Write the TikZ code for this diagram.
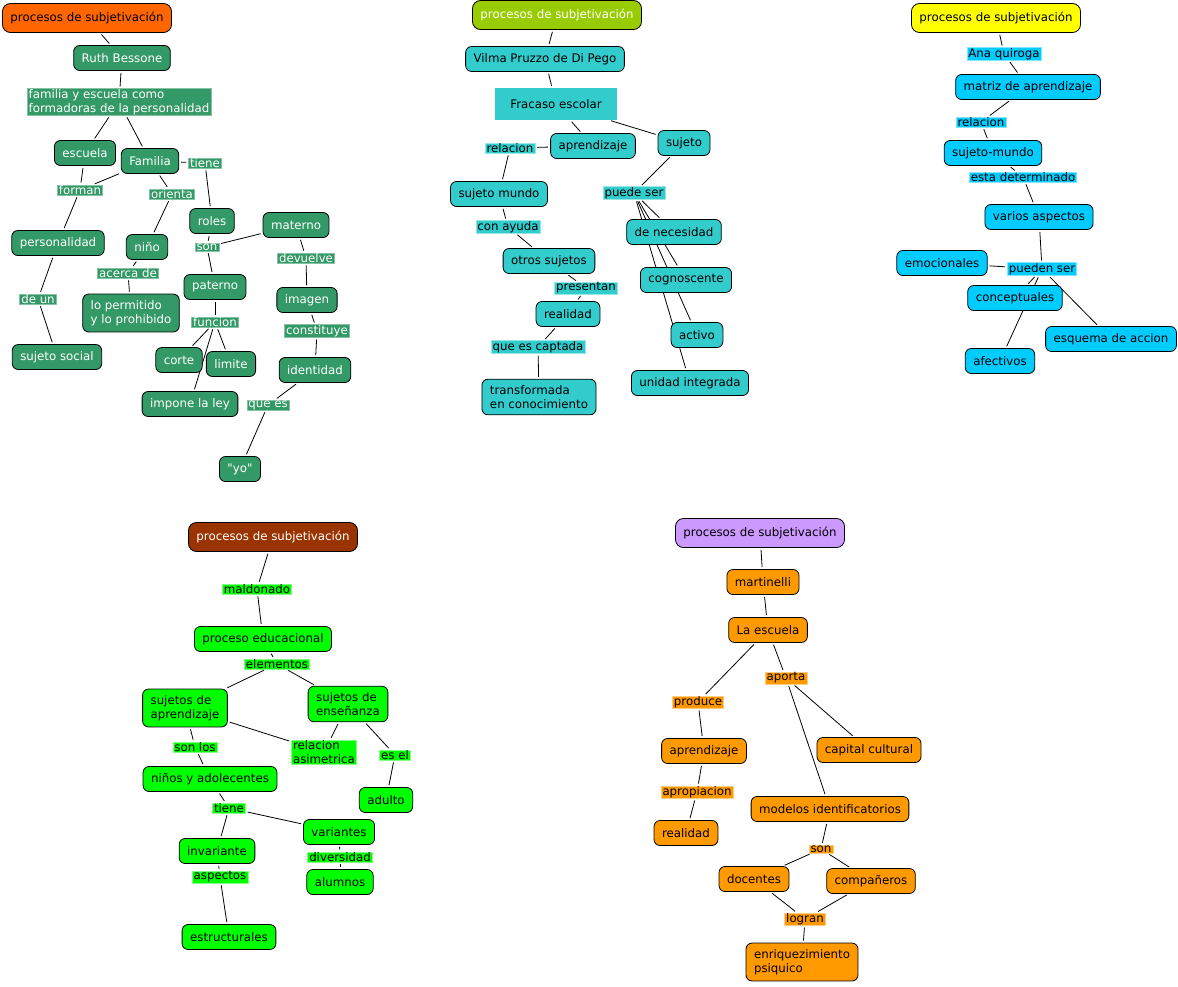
\documentclass[tikz,border=0pt]{standalone}
\usepackage{fontspec}
\setmainfont{DejaVu Sans}[Ligatures=TeXOff]
\usepackage{tikz}
\usetikzlibrary{backgrounds}
\usepackage{xcolor}
\definecolor{naranja}{HTML}{FF6600}
\definecolor{verde}{HTML}{339966}
\definecolor{oliva}{HTML}{99CC00}
\definecolor{turquesa}{HTML}{33CCCC}
\definecolor{amarillo}{HTML}{FFFF00}
\definecolor{celeste}{HTML}{00CCFF}
\definecolor{marron}{HTML}{993300}
\definecolor{lima}{HTML}{00FF00}
\definecolor{lila}{HTML}{CC99FF}
\definecolor{mandarina}{HTML}{FF9900}
\tikzset{
        block/.style = {draw, rounded corners=6pt, line width=0.8pt,
            minimum height=25pt, inner xsep=8pt, inner ysep=6pt,
            align=left, font=\fontsize{11.8}{14.5}\selectfont},
        head/.style = {block, rounded corners=8pt, minimum height=29pt},
        phrase/.style = {inner xsep=1.5pt, inner ysep=0.5pt, align=left,
            line width=0.6pt, font=\fontsize{11.8}{14}\selectfont},
        conn/.style = {draw, line width=0.8pt, shorten >=2pt, shorten <=2pt},
        b1/.style = {block, fill=verde, text=white},
        p1/.style = {phrase, fill=verde, draw=verde!60, text=white},
        b2/.style = {block, fill=turquesa},
        p2/.style = {phrase, fill=turquesa, draw=turquesa!50},
        b3/.style = {block, fill=celeste},
        p3/.style = {phrase, fill=celeste, draw=celeste!50},
        b4/.style = {block, fill=lima},
        p4/.style = {phrase, fill=lima, draw=lima!50},
        b5/.style = {block, fill=mandarina},
        p5/.style = {phrase, fill=mandarina, draw=mandarina!50},
    }

\begin{document}
\begin{tikzpicture}[x=1pt,y=-1pt]
        \useasboundingbox (0,0) rectangle (1178,986);

        % Ruth Bessone
        \node[head, fill=naranja] (t1) at (87,18) {procesos de subjetivación};
        \node[b1] (ruth) at (122,58) {Ruth Bessone};
        \node[p1] (fyes) at (119,102) {familia y escuela como\\formadoras de la personalidad};
        \node[b1] (esc) at (85,153) {escuela};
        \node[b1] (fam) at (150,161) {Familia};
        \node[p1] (tiene1) at (205,163) {tiene};
        \node[p1] (forman) at (80,190) {forman};
        \node[p1] (orienta) at (172,194) {orienta};
        \node[b1] (roles) at (212,221) {roles};
        \node[b1] (mat) at (296,225) {materno};
        \node[b1] (pers) at (58,243) {personalidad};
        \node[b1] (nino) at (147,247) {niño};
        \node[p1] (son1) at (207,247) {son};
        \node[p1] (devu) at (306,258) {devuelve};
        \node[p1] (acerca) at (128,273) {acerca de};
        \node[b1] (pat) at (215,287) {paterno};
        \node[p1] (deun) at (38,299) {de un};
        \node[b1] (permit) at (131,313) {lo permitido\\y lo prohibido};
        \node[b1] (imagen) at (307,300) {imagen};
        \node[p1] (func) at (215,322) {funcion};
        \node[p1] (const) at (317,331) {constituye};
        \node[b1] (social) at (57,357) {sujeto social};
        \node[b1] (corte) at (179,360) {corte};
        \node[b1] (limite) at (231,364) {limite};
        \node[b1] (ident) at (315,370) {identidad};
        \node[b1] (ley) at (190,404) {impone la ley};
        \node[p1] (quees) at (268,405) {que es};
        \node[b1] (yo) at (240,469) {"yo"};

        % Vilma Pruzzo de Di Pego
        \node[head, fill=oliva, text=white] (t2) at (557,15) {procesos de subjetivación};
        \node[b2] (vilma) at (545,59) {Vilma Pruzzo de Di Pego};
        \node[fill=turquesa, minimum width=122pt, minimum height=32pt,
            font=\fontsize{11.8}{14}\selectfont] (fracaso) at (556,104) {Fracaso escolar};
        \node[b2] (apr2) at (593,146) {aprendizaje};
        \node[b2] (suj2) at (684,143) {sujeto};
        \node[p2] (rel2) at (510,148) {relacion};
        \node[b2] (sm2) at (499,194) {sujeto mundo};
        \node[p2] (puede) at (634,193) {puede ser};
        \node[p2] (ayuda) at (508,227) {con ayuda};
        \node[b2] (neces) at (674,232) {de necesidad};
        \node[b2] (otros) at (549,261) {otros sujetos};
        \node[b2] (cogn) at (686,280) {cognoscente};
        \node[p2] (pres) at (586,288) {presentan};
        \node[b2] (real2) at (568,314) {realidad};
        \node[b2] (activo) at (697,335) {activo};
        \node[p2] (captada) at (538,347) {que es captada};
        \node[b2] (unidad) at (690,383) {unidad integrada};
        \node[b2] (transf) at (539,397) {transformada\\en conocimiento};

        % Ana quiroga
        \node[head, fill=amarillo] (t3) at (996,18) {procesos de subjetivación};
        \node[p3] (ana) at (1004,54) {Ana quiroga};
        \node[b3] (matriz) at (1028,87) {matriz de aprendizaje};
        \node[p3] (rel3) at (981,122) {relacion};
        \node[b3] (sm3) at (993,153) {sujeto-mundo};
        \node[p3] (determ) at (1023,177) {esta determinado};
        \node[b3] (varios) at (1039,217) {varios aspectos};
        \node[b3] (emoc) at (942,263) {emocionales};
        \node[p3] (pueden) at (1042,269) {pueden ser};
        \node[b3] (concep) at (1015,298) {conceptuales};
        \node[b3] (esquema) at (1111,339) {esquema de accion};
        \node[b3] (afect) at (1000,361) {afectivos};

        % maldonado
        \node[head, fill=marron, text=white] (t4) at (273,537) {procesos de subjetivación};
        \node[p4] (maldo) at (257,589) {maldonado};
        \node[b4] (proceso) at (263,639) {proceso educacional};
        \node[p4] (elem) at (277,664) {elementos};
        \node[b4] (sapr) at (185,708) {sujetos de\\aprendizaje};
        \node[b4] (sens) at (348,704) {sujetos de\\enseñanza};
        \node[p4] (asim) at (324,752) {relacion\\asimetrica};
        \node[p4] (sonlos) at (195,747) {son los};
        \node[p4] (esel) at (395,755) {es el};
        \node[b4] (ninos) at (210,779) {niños y adolecentes};
        \node[b4] (adulto) at (386,800) {adulto};
        \node[p4] (tiene4) at (229,808) {tiene};
        \node[b4] (variant) at (339,832) {variantes};
        \node[b4] (invar) at (217,851) {invariante};
        \node[p4] (divers) at (340,857) {diversidad};
        \node[p4] (aspect) at (220,877) {aspectos};
        \node[b4] (alumnos) at (340,882) {alumnos};
        \node[b4] (estruct) at (229,937) {estructurales};

        % martinelli
        \node[head, fill=lila] (t5) at (760,533) {procesos de subjetivación};
        \node[b5] (martin) at (763,582) {martinelli};
        \node[b5] (escuela5) at (768,630) {La escuela};
        \node[p5] (produce) at (698,702) {produce};
        \node[p5] (aporta) at (786,678) {aporta};
        \node[b5] (apr5) at (704,751) {aprendizaje};
        \node[b5] (capital) at (869,750) {capital cultural};
        \node[p5] (apropia) at (697,792) {apropiacion};
        \node[b5] (modelos) at (830,809) {modelos identificatorios};
        \node[b5] (real5) at (686,833) {realidad};
        \node[p5] (son5) at (821,849) {son};
        \node[b5] (docentes) at (754,879) {docentes};
        \node[b5] (compa) at (871,881) {compañeros};
        \node[p5] (logran) at (805,919) {logran};
        \node[b5] (enriq) at (802,962) {enriquezimiento\\psiquico};

        \begin{pgfonlayer}{background}
            \fill[white] (0,0) rectangle (1178,986);
            \foreach \a/\b in {t1/ruth, ruth/fyes, fyes/esc, fyes/fam, esc/forman,
                    fam/forman, forman/pers, fam/orienta, orienta/nino, fam/tiene1,
                    tiene1/roles, roles/son1, mat/son1, son1/pat, nino/acerca,
                    acerca/permit, pers/deun, deun/social, mat/devu, devu/imagen,
                    imagen/const, const/ident, pat/func, func/corte, func/limite,
                    func/ley, ident/quees, quees/yo,
                    t2/vilma, vilma/fracaso, fracaso/apr2, fracaso/suj2, apr2/rel2,
                    rel2/sm2, sm2/ayuda, ayuda/otros, otros/pres, pres/real2,
                    real2/captada, captada/transf, suj2/puede, puede/neces,
                    puede/cogn, puede/activo, puede/unidad,
                    t3/ana, ana/matriz, matriz/rel3, rel3/sm3, sm3/determ,
                    determ/varios, varios/pueden, pueden/emoc, pueden/concep,
                    pueden/esquema, pueden/afect,
                    t4/maldo, maldo/proceso, proceso/elem, elem/sapr, elem/sens,
                    sapr/asim, sens/asim, sapr/sonlos, sonlos/ninos, sens/esel,
                    esel/adulto, ninos/tiene4, tiene4/invar, tiene4/variant,
                    variant/divers, divers/alumnos, invar/aspect, aspect/estruct,
                    t5/martin, martin/escuela5, escuela5/produce, produce/apr5,
                    escuela5/aporta, aporta/capital, aporta/modelos, apr5/apropia,
                    apropia/real5, modelos/son5, son5/docentes, son5/compa,
                    docentes/logran, compa/logran, logran/enriq}
                \draw[conn] (\a) -- (\b);
        \end{pgfonlayer}
    \end{tikzpicture}
\end{document}
